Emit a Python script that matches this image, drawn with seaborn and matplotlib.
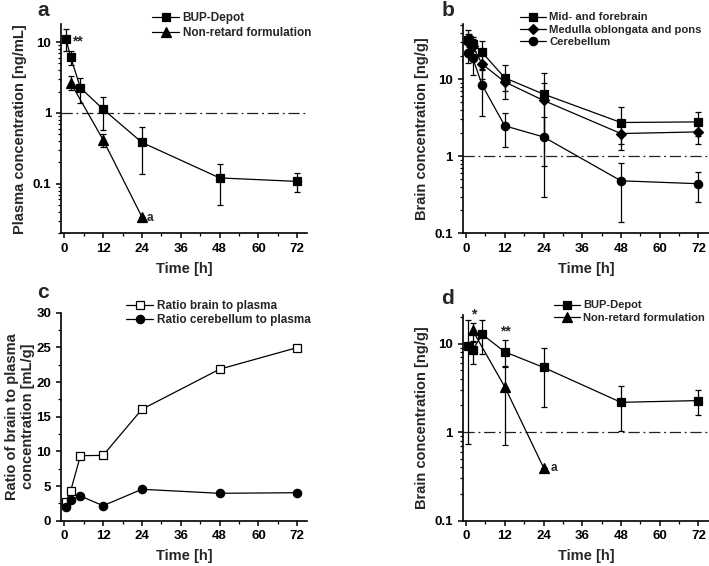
import numpy as np
import matplotlib
matplotlib.use("Agg")
import matplotlib.pyplot as plt
from matplotlib.ticker import LogLocator, FuncFormatter, MultipleLocator, NullFormatter
import seaborn as sns

# ---------------- data ----------------
# Panel a: plasma concentration [ng/mL]
a_depot_t = [0.5, 2, 5, 12, 24, 48, 72]
a_depot_y = [11.2, 6.1, 2.26, 1.13, 0.383, 0.121, 0.108]
a_depot_lo = [7.5, 4.7, 1.4, 0.565, 0.139, 0.05, 0.076]
a_depot_hi = [15.4, 7.6, 3.13, 1.69, 0.63, 0.19, 0.143]
a_nr_t = [2, 12, 24]
a_nr_y = [2.66, 0.418, 0.034]
a_nr_lo = [2.1, 0.33, 0.034]
a_nr_hi = [3.3, 0.5, 0.034]

# Panel b: brain concentration [ng/g]
b_mf_t = [0.5, 1, 2, 5, 12, 24, 48, 72]
b_mf_y = [32.7, 32.0, 29.0, 22.2, 10.4, 6.4, 2.74, 2.79]
b_mf_lo = [24, 26, 23, 13, 5.6, 0.75, 1.19, 1.82]
b_mf_hi = [44, 38, 35, 31.4, 15.2, 12.1, 4.29, 3.76]
b_mo_t = [0.5, 1, 2, 5, 12, 24, 48, 72]
b_mo_y = [30.0, 30.5, 27.0, 15.7, 9.2, 5.3, 1.97, 2.07]
b_mo_lo = [22, 24, 21, 10, 7.1, 1.7, 1.46, 1.46]
b_mo_hi = [38, 37, 33, 21, 11.3, 8.9, 2.48, 2.68]
b_cb_t = [0.5, 2, 5, 12, 24, 48, 72]
b_cb_y = [22.0, 19.1, 8.36, 2.48, 1.78, 0.48, 0.44]
b_cb_lo = [16, 11.3, 3.3, 1.32, 0.3, 0.14, 0.255]
b_cb_hi = [28, 27, 13.4, 3.65, 3.24, 0.82, 0.625]

# Panel c: ratio [mL/g]
c_t = [0.5, 2, 5, 12, 24, 48, 72]
c_brain = [2.74, 4.33, 9.38, 9.42, 16.07, 21.85, 24.97]
c_cereb = [2.02, 2.99, 3.56, 2.16, 4.53, 3.95, 4.04]

# Panel d: brain concentration [ng/g]
d_depot_t = [0.5, 2, 5, 12, 24, 48, 72]
d_depot_y = [9.4, 8.4, 12.7, 8.05, 5.38, 2.17, 2.27]
d_depot_lo = [0.74, 5.85, 7.7, 5.5, 1.93, 1.03, 1.58]
d_depot_hi = [18.3, 10.5, 18.3, 10.9, 8.9, 3.35, 3.02]
d_nr_t = [2, 12, 24]
d_nr_y = [14.1, 3.24, 0.398]
d_nr_lo = [10.6, 0.71, 0.398]
d_nr_hi = [17.2, 5.6, 0.398]

xticks = [0, 12, 24, 36, 48, 60, 72]

# ---------------- style ----------------
sns.set_style("ticks")
plt.rcParams["font.family"] = ["Liberation Sans", "DejaVu Sans"]
plt.rcParams["font.weight"] = "bold"
plt.rcParams["axes.labelweight"] = "bold"
plt.rcParams["axes.linewidth"] = 1.2
plt.rcParams["xtick.major.width"] = 1.1
plt.rcParams["ytick.major.width"] = 1.1
plt.rcParams["xtick.minor.width"] = 0.9
plt.rcParams["ytick.minor.width"] = 0.9
plt.rcParams["xtick.major.size"] = 3.5
plt.rcParams["ytick.major.size"] = 3.5
plt.rcParams["xtick.minor.size"] = 2.2
plt.rcParams["ytick.minor.size"] = 2.2
plt.rcParams["xtick.color"] = "black"
plt.rcParams["ytick.color"] = "black"
plt.rcParams["axes.edgecolor"] = "black"

W, H = 709, 566
fig = plt.figure(figsize=(W / 100, H / 100), dpi=100)


def add_ax(l, t, r, b):
    return fig.add_axes([l / W, 1 - b / H, (r - l) / W, (b - t) / H])


ax_a = add_ax(61, 24, 307, 233.3)
ax_b = add_ax(462.7, 24, 709, 233.3)
ax_c = add_ax(61, 312.7, 307, 520.7)
ax_d = add_ax(462.7, 315, 709, 520.7)

LW = 0.9
MS = 5.5
dash = (0, (9, 3, 1.5, 3))


def series(ax, t, y, lo, hi, marker, label, ms=MS, mfc="black"):
    if lo is not None:
        y_ = np.array(y)
        ax.errorbar(t, y, yerr=[y_ - np.array(lo), np.array(hi) - y_], fmt="none",
                    ecolor="black", elinewidth=LW, capsize=2.5, capthick=LW, zorder=2)
    sns.lineplot(x=t, y=y, ax=ax, color="black", marker=marker, markersize=ms,
                 markerfacecolor=mfc, markeredgecolor="black", markeredgewidth=0.9,
                 linewidth=LW, label=label, zorder=3, sort=False)


def style_log(ax, ylo, yhi):
    ax.set_yscale("log")
    ax.set_ylim(ylo, yhi)
    ax.yaxis.set_major_locator(LogLocator(base=10, numticks=10))
    ax.yaxis.set_minor_locator(LogLocator(base=10, subs=np.arange(2, 10), numticks=20))
    ax.yaxis.set_major_formatter(FuncFormatter(lambda v, p: f"{v:g}"))
    ax.yaxis.set_minor_formatter(NullFormatter())
    ax.axhline(1, color="#222222", lw=0.9, linestyle=dash, zorder=1)


def style_x(ax, xlo, xhi):
    ax.set_xlim(xlo, xhi)
    ax.set_xticks(xticks)
    ax.xaxis.set_minor_locator(MultipleLocator(6))
    ax.set_xlabel("Time [h]", fontsize=10.5, labelpad=5)
    ax.tick_params(axis="both", which="both", direction="out", labelsize=9.5)
    sns.despine(ax=ax)


def legend(ax, x, y, fs=8.5):
    ax.legend(loc="upper left", bbox_to_anchor=(x / W, 1 - y / H), bbox_transform=fig.transFigure,
              frameon=False, handlelength=2.3, handletextpad=0.3,
              labelspacing=0.2, borderaxespad=0, borderpad=0, prop={"weight": "bold", "size": fs})


# ---- panel a
series(ax_a, a_depot_t, a_depot_y, a_depot_lo, a_depot_hi, "s", "BUP-Depot")
series(ax_a, a_nr_t, a_nr_y, a_nr_lo, a_nr_hi, "^", "Non-retard formulation", ms=6.5)
style_log(ax_a, 0.02, 18)
style_x(ax_a, -1, 75)
ax_a.set_ylabel("Plasma concentration [ng/mL]", fontsize=10.5, labelpad=4)
ax_a.text(2.4, 10.2, "**", fontsize=10, fontweight="bold", ha="left", va="center")
ax_a.text(25.3, 0.033, "a", fontsize=8.5, fontweight="bold", ha="left", va="center")
legend(ax_a, 152, 12.5)

# ---- panel b
series(ax_b, b_mf_t, b_mf_y, b_mf_lo, b_mf_hi, "s", "Mid- and forebrain")
series(ax_b, b_mo_t, b_mo_y, b_mo_lo, b_mo_hi, "D", "Medulla oblongata and pons", ms=5)
series(ax_b, b_cb_t, b_cb_y, b_cb_lo, b_cb_hi, "o", "Cerebellum", ms=6)
style_log(ax_b, 0.1, 52)
style_x(ax_b, -1.05, 75.3)
ax_b.set_ylabel("Brain concentration [ng/g]", fontsize=10.5, labelpad=4)
legend(ax_b, 520, 12.5, fs=8.1)

# ---- panel c
series(ax_c, c_t, c_brain, None, None, "s", "Ratio brain to plasma", mfc="white")
series(ax_c, c_t, c_cereb, None, None, "o", "Ratio cerebellum to plasma", ms=6)
ax_c.set_ylim(0, 30)
ax_c.set_yticks([0, 5, 10, 15, 20, 25, 30])
ax_c.yaxis.set_minor_locator(MultipleLocator(2.5))
style_x(ax_c, -1, 75)
ax_c.set_ylabel("Ratio of brain to plasma\nconcentration [mL/g]", fontsize=10.5, labelpad=1)
legend(ax_c, 126, 300)

# ---- panel d
series(ax_d, d_depot_t, d_depot_y, d_depot_lo, d_depot_hi, "s", "BUP-Depot")
series(ax_d, d_nr_t, d_nr_y, d_nr_lo, d_nr_hi, "^", "Non-retard formulation", ms=6.5)
style_log(ax_d, 0.1, 21)
style_x(ax_d, -1.05, 75.3)
ax_d.set_ylabel("Brain concentration [ng/g]", fontsize=10.5, labelpad=4)
ax_d.text(2.3, 21.5, "*", fontsize=10, fontweight="bold", ha="center", va="center", clip_on=False)
ax_d.text(12.3, 13.8, "**", fontsize=10, fontweight="bold", ha="center", va="center")
ax_d.text(26.2, 0.39, "a", fontsize=8.5, fontweight="bold", ha="left", va="center")
legend(ax_d, 554, 300.5, fs=8.0)

# panel letters
for s, x, y in [("a", 43, 10), ("b", 448, 10), ("c", 43, 292), ("d", 448, 298)]:
    fig.text(x / W, 1 - y / H, s, fontsize=15, fontweight="bold", ha="center", va="center")

fig.savefig("out.png", dpi=100)
